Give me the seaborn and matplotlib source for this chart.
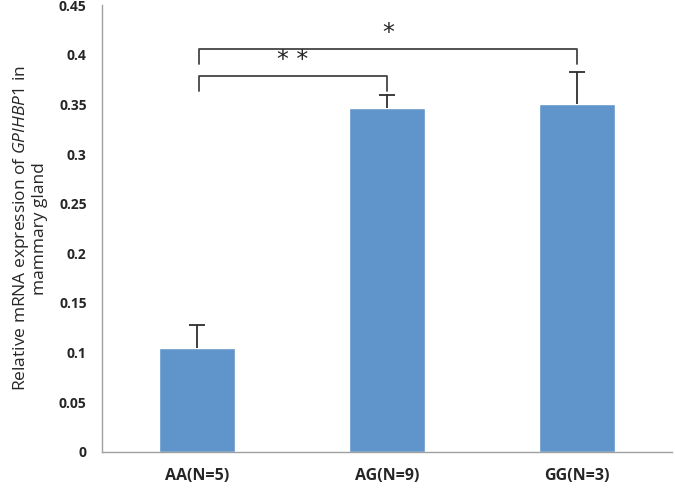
import matplotlib
matplotlib.use("Agg")
import matplotlib.pyplot as plt
import seaborn as sns
import pandas as pd

# values
genotypes = ["AA(N=5)", "AG(N=9)", "GG(N=3)"]
expression = [0.105, 0.347, 0.351]
sem = [0.023, 0.013, 0.032]

brackets = [(0, 1, 0.379, "* *"), (0, 2, 0.406, "*")]

sns.set_style("white")
plt.rcParams["font.family"] = ["Open Sans", "DejaVu Sans"]
plt.rcParams["mathtext.fontset"] = "custom"
plt.rcParams["mathtext.it"] = "Open Sans:italic"
plt.rcParams["mathtext.rm"] = "Open Sans"

Datos = pd.DataFrame({"Genotipo": genotypes, "Expresion": expression})

fig = plt.figure(figsize=(6.75, 4.9), dpi=100)
ax = fig.add_axes([0.151, 0.078, 0.845, 0.911])

sns.barplot(x="Genotipo", y="Expresion", data=Datos, color="#5F95CB",
            width=0.4, saturation=1, ax=ax, errorbar=None)
eb = ax.errorbar(range(len(genotypes)), expression, yerr=[[0] * 3, sem],
                 fmt="none", ecolor="#2E2E2E", elinewidth=1.3, capsize=6, capthick=1.3)
eb[1][0].set_visible(False)  # sin tapa inferior

# significance brackets
for a, b, h, txt in brackets:
    xa, xb = a + 0.01, b
    left_drop = h - 0.015
    right_drop = expression[b] + sem[b] + 0.004 if b == 1 else h - 0.015
    ax.plot([xa, xa, xb, xb], [left_drop, h, h, right_drop], color="#444444", lw=1.3)
    ax.text((xa + xb) / 2, h + 0.004, txt, ha="center", va="bottom", fontsize=17,
            family="DejaVu Sans")

ax.set_ylim(0, 0.45)
ax.set_xlim(-0.5, 2.5)
ax.set_yticks([i * 0.05 for i in range(10)])
ax.set_yticklabels(["0", "0.05", "0.1", "0.15", "0.2", "0.25", "0.3", "0.35", "0.4", "0.45"],
                   fontweight="bold", fontsize=10)
ax.set_xticks(range(3))
ax.set_xticklabels(genotypes, fontweight="bold", fontsize=11.5)
ax.set_xticks([-0.5, 0.5, 1.5, 2.5], minor=True)
ax.tick_params(axis="x", which="major", length=0, pad=12)
ax.tick_params(axis="x", which="minor", length=5, color="#A0A0A0", direction="out")
ax.tick_params(axis="y", length=5, color="#A0A0A0", direction="out", pad=6)
ax.set_xlabel("")
ax.set_ylabel("Relative mRNA expression of $\\mathit{GPIHBP1}$ in\nmammary gland",
              fontsize=12.5, labelpad=8, linespacing=1.1)

sns.despine(ax=ax)
for s in ["left", "bottom"]:
    ax.spines[s].set_color("#A0A0A0")
    ax.spines[s].set_linewidth(1)

fig.savefig("out.png", dpi=100)
